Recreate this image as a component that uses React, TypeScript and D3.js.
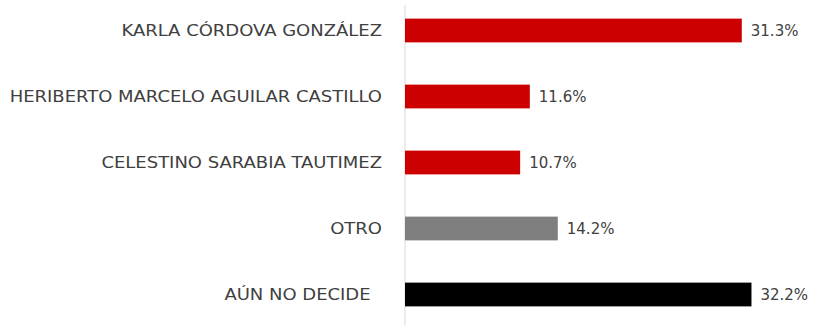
import React from "react";
import * as d3 from "d3";

const categories = [
  "KARLA CÓRDOVA GONZÁLEZ",
  "HERIBERTO MARCELO AGUILAR CASTILLO",
  "CELESTINO SARABIA TAUTIMEZ",
  "OTRO",
  "AÚN NO DECIDE  ",
];
const values = [31.3, 11.6, 10.7, 14.2, 32.2];
const labels = ["31.3%", "11.6%", "10.7%", "14.2%", "32.2%"];
const colors = ["#cc0000", "#cc0000", "#cc0000", "#7f7f7f", "#000000"];

const W = 822;
const H = 326;

export default function App() {
  const x = d3.scaleLinear().domain([0, 35]).range([405, 405 + 35 * 10.76]);
  const y = d3
    .scaleBand<string>()
    .domain(categories)
    .range([-2.5, 327.5])
    .paddingInner(0.64)
    .paddingOuter(0.32);
  const font = "'DejaVu Sans', sans-serif";
  return (
    <svg
      width={W}
      height={H}
      style={{ position: "absolute", left: 0, top: 0, background: "#fff" }}
    >
      <line x1={x(0)} x2={x(0)} y1={5} y2={325} stroke="#d9d9d9" strokeWidth={1} />
      {categories.map((c, i) => {
        const yc = (y(c) as number) + y.bandwidth() / 2;
        return (
          <g key={c}>
            <rect
              x={x(0)}
              y={y(c)}
              width={x(values[i]) - x(0)}
              height={y.bandwidth()}
              fill={colors[i]}
            />
            <g transform={`translate(382,${yc}) scale(1.2,1)`}>
              <text
                x={0}
                y={0}
                dy="0.36em"
                textAnchor="end"
                fontFamily={font}
                fontSize={15}
                fill="#404040"
                style={{ whiteSpace: "pre" }}
              >
                {c}
              </text>
            </g>
            <text
              x={x(values[i]) + 9}
              y={yc}
              dy="0.36em"
              fontFamily={font}
              fontSize={15}
              fill="#404040"
            >
              {labels[i]}
            </text>
          </g>
        );
      })}
    </svg>
  );
}
